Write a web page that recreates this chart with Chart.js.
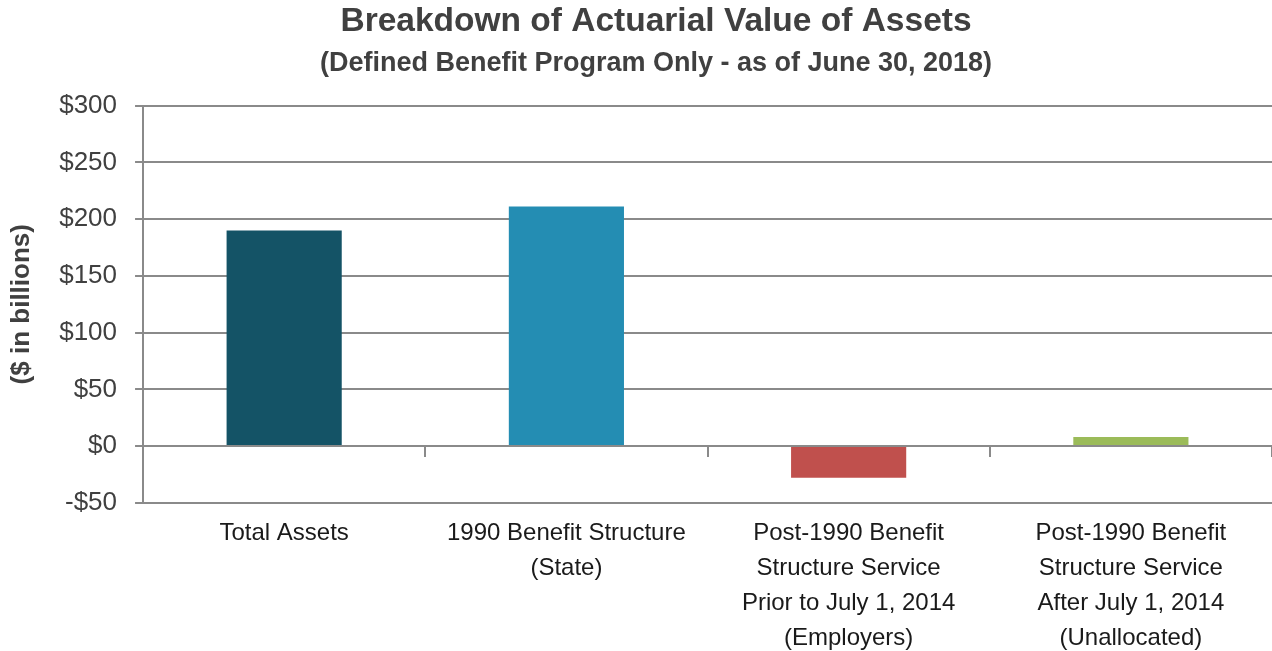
<!DOCTYPE html>
<html>
<head>
<meta charset="utf-8">
<title>Breakdown of Actuarial Value of Assets</title>
<script src="https://cdn.jsdelivr.net/npm/chart.js@4/dist/chart.umd.min.js"></script>
<style>
    html, body { margin: 0; padding: 0; background: #fff; }
    #wrap { width: 1272px; height: 651px; }
</style>
</head>
<body>
<div id="wrap"><canvas id="asset-chart"></canvas></div>
<script>
// Data ($ in billions)
const categories = [
    ['Total Assets'],
    ['1990 Benefit Structure', '(State)'],
    ['Post-1990 Benefit', 'Structure Service', 'Prior to July 1, 2014', '(Employers)'],
    ['Post-1990 Benefit', 'Structure Service', 'After July 1, 2014', '(Unallocated)']
];
const assetValues = [190, 211, -28, 8];
const barColors = ['#145366', '#248DB3', '#C0504D', '#9BBB59'];
const yTicks = [-50, 0, 50, 100, 150, 200, 250, 300];

const gridGray = '#8a8a8a';
const sans = "'Liberation Sans', Arial, sans-serif";

const ctx = document.getElementById('asset-chart').getContext('2d');

let assetChart = new Chart(ctx, {
    type: 'bar',
    data: {
        labels: categories,
        datasets: [{
            data: assetValues,
            backgroundColor: barColors,
            borderWidth: 0,
            barPercentage: 0.408,
            categoryPercentage: 1
        }]
    },
    options: {
        responsive: true,
        maintainAspectRatio: false,
        animation: false,
        layout: {
            // left padding pushes the centred titles right, like the original
            padding: { left: 40, right: 0, top: 0, bottom: -18 }
        },
        plugins: {
            legend: { display: false },
            tooltip: { enabled: false },
            title: {
                display: true,
                text: 'Breakdown of Actuarial Value of Assets',
                color: '#404040',
                font: { family: sans, size: 33.5, weight: 'bold' },
                padding: { top: 2, bottom: 0 }
            },
            subtitle: {
                display: true,
                text: '(Defined Benefit Program Only - as of June 30, 2018)',
                color: '#404040',
                font: { family: sans, size: 27, weight: 'bold' },
                padding: { top: 5, bottom: 26 }
            }
        },
        scales: {
            x: {
                grid: { display: false, drawTicks: false },
                border: { display: false },
                ticks: {
                    color: '#1a1a1a',
                    padding: 13,
                    maxRotation: 0,
                    autoSkip: false,
                    font: { family: sans, size: 24, lineHeight: 1.46 }
                }
            },
            // zero line with category tick marks, like the original
            x0: {
                type: 'category',
                position: { y: 0 },
                z: 1,
                grid: {
                    drawOnChartArea: false,
                    offset: true,
                    tickLength: 10,
                    color: gridGray,
                    lineWidth: 2
                },
                border: { color: gridGray, width: 2 },
                ticks: { display: false }
            },
            y: {
                min: -50,
                max: 300,
                afterBuildTicks: (scale) => {
                    scale.ticks = yTicks.map(v => ({ value: v }));
                },
                grid: {
                    color: gridGray,
                    lineWidth: 2,
                    tickLength: 8
                },
                border: { color: gridGray, width: 2 },
                ticks: {
                    color: '#404040',
                    padding: 18,
                    font: { family: sans, size: 26 },
                    callback: (v) => v < 0 ? '-$' + Math.abs(v) : '$' + v
                },
                title: {
                    display: true,
                    text: '($ in billions)',
                    color: '#404040',
                    font: { family: sans, size: 26, weight: 'bold' },
                    padding: { top: -33.6, bottom: 3.6 }
                }
            }
        }
    }
});
</script>
</body>
</html>
